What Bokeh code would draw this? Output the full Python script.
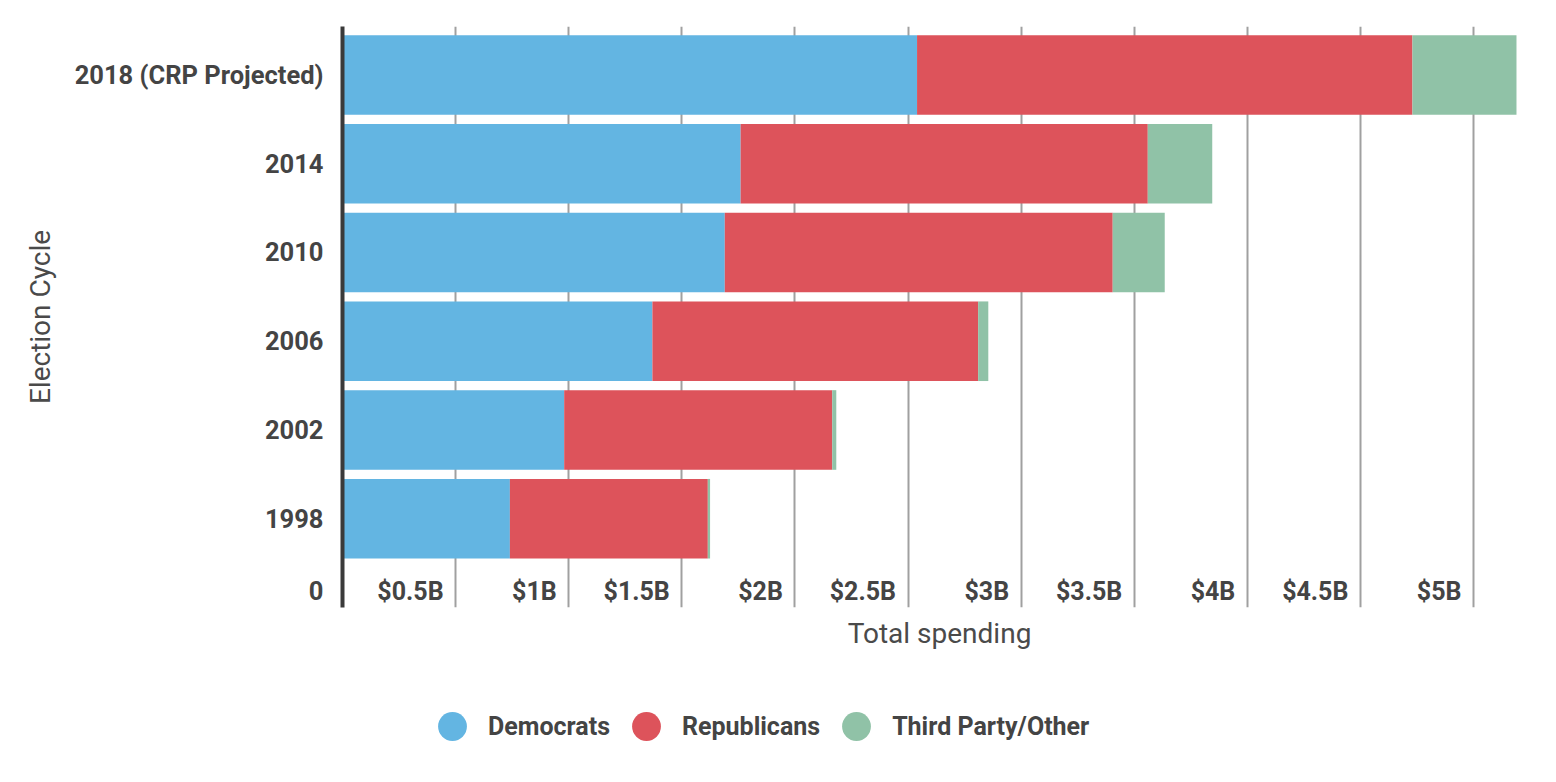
from bokeh.plotting import figure
from bokeh.layouts import column
from bokeh.models import (ColumnDataSource, Range1d, FixedTicker, LabelSet,
                          Legend, LegendItem)
from bokeh.core.properties import value
from bokeh.embed import file_html
from bokeh.resources import INLINE

# ---- data (billions of dollars) ----
cycles = ["2018 (CRP Projected)", "2014", "2010", "2006", "2002", "1998"]
democrats = [2.54, 1.76, 1.69, 1.37, 0.98, 0.74]
republicans = [2.19, 1.80, 1.715, 1.44, 1.185, 0.875]
third_party = [0.46, 0.285, 0.23, 0.045, 0.018, 0.01]
series_names = ["Democrats", "Republicans", "Third Party/Other"]
series_colors = ["#63B5E2", "#DD535B", "#90C2A7"]
tick_values = [0, 0.5, 1.0, 1.5, 2.0, 2.5, 3.0, 3.5, 4.0, 4.5, 5.0]
tick_labels = ["0", "$0.5B", "$1B", "$1.5B", "$2B", "$2.5B", "$3B", "$3.5B",
               "$4B", "$4.5B", "$5B"]

TEXT = "#444444"
FONT = "Roboto"
LABEL_ROW = 0.185  # vertical position of the value labels (inside empty bottom row)

n = len(cycles)
positions = [n - i for i in range(n)]  # top row highest

src = ColumnDataSource(dict(pos=positions, cycle=cycles, dem=democrats,
                            rep=republicans, third=third_party))

p = figure(width=1548, height=660,
           x_range=Range1d(0, 5.2785), y_range=Range1d(0, 6.546),
           output_backend="svg", toolbar_location=None,
           min_border_left=342, min_border_right=12,
           min_border_top=26, min_border_bottom=53)
p.outline_line_color = None
p.background_fill_color = "white"

# grid
p.ygrid.grid_line_color = None
p.xgrid.ticker = FixedTicker(ticks=tick_values[1:])
p.xgrid.grid_line_color = "#A0A0A0"
p.xgrid.grid_line_width = 2

# bars
p.hbar_stack(["dem", "rep", "third"], y="pos", height=0.897,
             color=series_colors, line_color=None, source=src)

# y axis (categories + the "0" of the value scale)
yax = p.yaxis[0]
yax.ticker = FixedTicker(ticks=positions + [LABEL_ROW])
overrides = {pos: c for pos, c in zip(positions, cycles)}
overrides[LABEL_ROW] = tick_labels[0]
yax.major_label_overrides = overrides
yax.major_tick_line_color = None
yax.minor_tick_line_color = None
yax.major_tick_in = 0
yax.major_tick_out = 0
yax.axis_line_color = "#3a3a3a"
yax.axis_line_width = 4
yax.major_label_standoff = 19
yax.major_label_text_font = FONT
yax.major_label_text_font_size = "25.5px"
yax.major_label_text_font_style = "bold"
yax.major_label_text_color = TEXT
yax.axis_label = "Election Cycle"
yax.axis_label_text_font = FONT
yax.axis_label_text_font_size = "28px"
yax.axis_label_text_font_style = "normal"
yax.axis_label_text_color = "#4a4a4a"
yax.axis_label_standoff = 15

# x axis (title only; value labels drawn inside the plot)
xax = p.xaxis[0]
xax.ticker = FixedTicker(ticks=[])
xax.axis_line_color = None
xax.major_tick_line_color = None
xax.minor_tick_line_color = None
xax.major_tick_in = 0
xax.major_tick_out = 0
xax.axis_label = "Total spending"
xax.axis_label_text_font = FONT
xax.axis_label_text_font_size = "28px"
xax.axis_label_text_font_style = "normal"
xax.axis_label_text_color = "#4a4a4a"
xax.axis_label_standoff = 9

tick_src = ColumnDataSource(dict(x=tick_values[1:], text=tick_labels[1:]))
labels = LabelSet(x="x", y=LABEL_ROW, text="text", source=tick_src,
                  x_offset=-12, text_align="right", text_baseline="middle",
                  text_font=value(FONT), text_font_size="25px",
                  text_font_style="bold", text_color=TEXT)
p.add_layout(labels)

# legend strip below the chart
lg = figure(width=1548, height=110, x_range=Range1d(0, 1), y_range=Range1d(0, 1),
            output_backend="svg", toolbar_location=None,
            x_axis_location=None, y_axis_location=None, min_border=0)
lg.outline_line_color = None
lg.grid.visible = False
items = []
nan = float("nan")
for name, col in zip(series_names, series_colors):
    # proxy renderer (NaN point draws nothing) so the legend can show a circle swatch
    r = lg.scatter(x=[nan], y=[nan], marker="circle", fill_color=col,
                   line_color=None)
    items.append(LegendItem(label=name, renderers=[r]))
legend = Legend(items=items, location=(74, 8), orientation="horizontal",
                glyph_width=72, glyph_height=72, label_standoff=0,
                spacing=0, padding=0, margin=0, border_line_color=None,
                background_fill_alpha=0,
                label_text_font=FONT, label_text_font_size="25px",
                label_text_font_style="bold", label_text_color=TEXT)
lg.add_layout(legend)

open("out.html", "w").write(file_html(column(p, lg), INLINE))
